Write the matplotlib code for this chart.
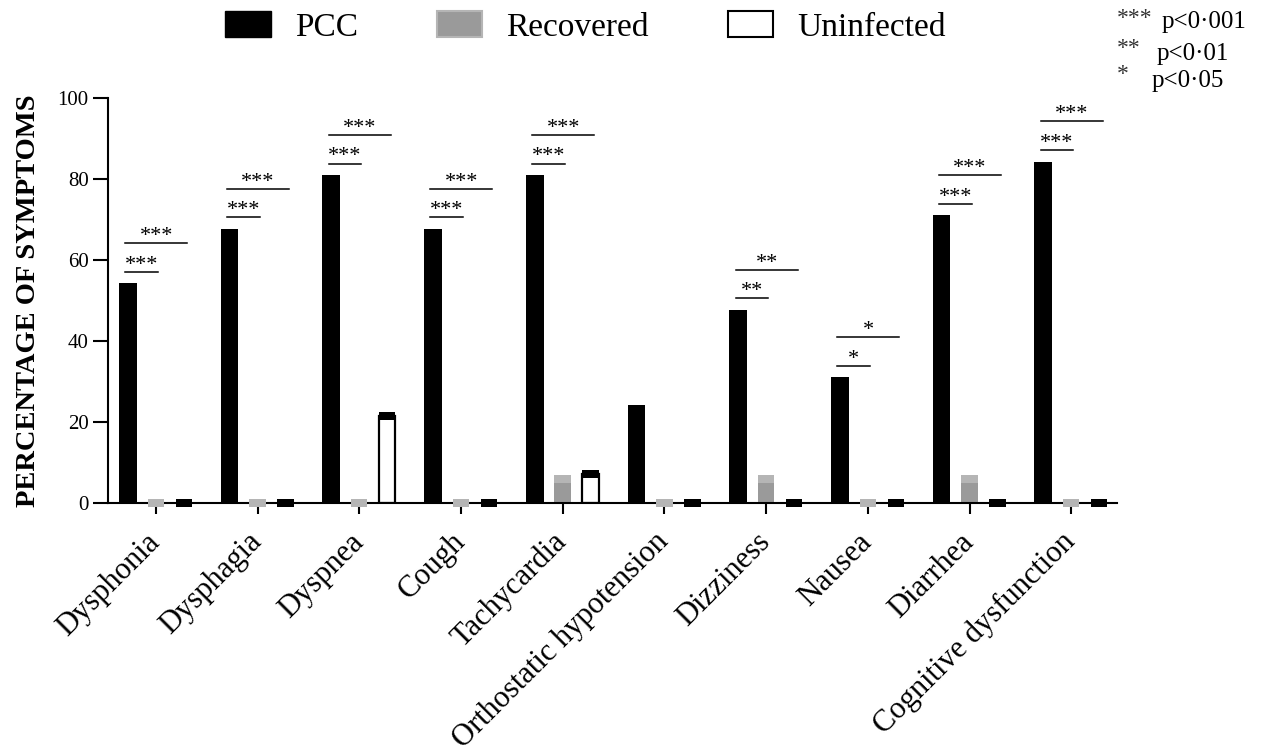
import numpy as np
import matplotlib.pyplot as plt
from matplotlib.patches import Patch
from matplotlib.transforms import ScaledTranslation

plt.rcParams['font.family'] = ['Liberation Serif', 'DejaVu Serif']

symptoms = ['Dysphonia', 'Dysphagia', 'Dyspnea', 'Cough', 'Tachycardia',
            'Orthostatic hypotension', 'Dizziness', 'Nausea', 'Diarrhea',
            'Cognitive dysfunction']
pcc = [53.3, 66.7, 80.0, 66.7, 80.0, 23.3, 46.7, 30.0, 70.0, 83.3]
recovered = [0, 0, 0, 0, 5.9, 0, 5.9, 0, 5.9, 0]
uninfected = [0, 0, 21.4, 0, 7.1, 0, 0, 0, 0, 0]
sig_recovered = ['***', '***', '***', '***', '***', '', '**', '*', '***', '***']
sig_uninfected = ['***', '***', '***', '***', '***', '', '**', '*', '***', '***']

x = np.arange(len(symptoms))
off = 0.275
w = 0.175
cap = 1.0

fig = plt.figure(figsize=(12.68, 7.55), dpi=100)
ax = fig.add_axes([0.0852, 0.3338, 0.7957, 0.5364])

# bars with a thick cap on top (SEM-style marker)
ax.bar(x - off, pcc, w, color='black', zorder=2)
ax.bar(x - off, 2 * cap, w, bottom=np.array(pcc) - cap, color='black', clip_on=False, zorder=3)

ax.bar(x, recovered, w * 0.92, color='#9a9a9a', zorder=2)
ax.bar(x, 2 * cap, w * 0.92, bottom=np.array(recovered) - cap, color='#b5b5b5', clip_on=False, zorder=3)

ax.bar(x + off, uninfected, w * 0.92, color='white', edgecolor='black', linewidth=1.6, zorder=2)
ax.bar(x + off, 2 * cap, w * 0.92, bottom=np.array(uninfected) - cap, color='black', clip_on=False, zorder=3)

# significance brackets
for i in range(len(symptoms)):
    x0 = x[i] - 0.30
    if sig_recovered[i]:
        y1 = pcc[i] + 3.8
        ax.plot([x0, x[i] + 0.02], [y1, y1], color='black', lw=1.1, clip_on=False)
        ax.text((x0 + x[i] + 0.02) / 2, y1 - 0.7, sig_recovered[i], ha='center', va='bottom',
                fontsize=16, clip_on=False)
    if sig_uninfected[i]:
        y2 = pcc[i] + 10.9
        ax.plot([x0, x[i] + 0.31], [y2, y2], color='black', lw=1.1, clip_on=False)
        ax.text((x0 + x[i] + 0.31) / 2, y2 - 0.7, sig_uninfected[i], ha='center', va='bottom',
                fontsize=16, clip_on=False)

ax.set_xlim(-0.47, 9.45)
ax.set_ylim(0, 100)
ax.set_yticks([0, 20, 40, 60, 80, 100])
ax.set_xticks(x)
ax.set_xticklabels(symptoms, rotation=45, ha='right', va='center', rotation_mode='anchor', fontsize=22)
shift = ScaledTranslation(4 / 100, -5 / 100, fig.dpi_scale_trans)
for lbl in ax.get_xticklabels():
    lbl.set_transform(lbl.get_transform() + shift)
ax.tick_params(axis='y', labelsize=15, length=11, width=1.5, pad=3)
ax.tick_params(axis='x', length=8, width=1.5, pad=17)
for s in ['top', 'right']:
    ax.spines[s].set_visible(False)
ax.spines['left'].set_linewidth(1.5)
ax.spines['bottom'].set_linewidth(1.5)
ax.set_ylabel('PERCENTAGE OF SYMPTOMS', fontsize=20.5, fontweight='bold', labelpad=12)

handles = [Patch(facecolor='black', edgecolor='black'),
           Patch(facecolor='#9a9a9a', edgecolor='#b5b5b5', linewidth=1.5),
           Patch(facecolor='white', edgecolor='black', linewidth=1.5)]
fig.legend(handles, ['PCC', 'Recovered', 'Uninfected'], loc='center', bbox_to_anchor=(0.4618, 0.964),
           ncol=3, frameon=False, fontsize=24, handlelength=1.36, handleheight=0.82,
           handletextpad=0.73, columnspacing=2.36)

fig.text(1117 / 1268, 1 - 19 / 755, '***', fontsize=17, ha='left', va='center', color='#333333')
fig.text(1162 / 1268, 1 - 22 / 755, 'p<0·001', fontsize=18, ha='left', va='center')
fig.text(1117 / 1268, 1 - 49 / 755, '**', fontsize=17, ha='left', va='center', color='#333333')
fig.text(1157 / 1268, 1 - 54 / 755, 'p<0·01', fontsize=18, ha='left', va='center')
fig.text(1117 / 1268, 1 - 75 / 755, '*', fontsize=17, ha='left', va='center', color='#333333')
fig.text(1152 / 1268, 1 - 81 / 755, 'p<0·05', fontsize=18, ha='left', va='center')

plt.savefig('out.png', dpi=100)
